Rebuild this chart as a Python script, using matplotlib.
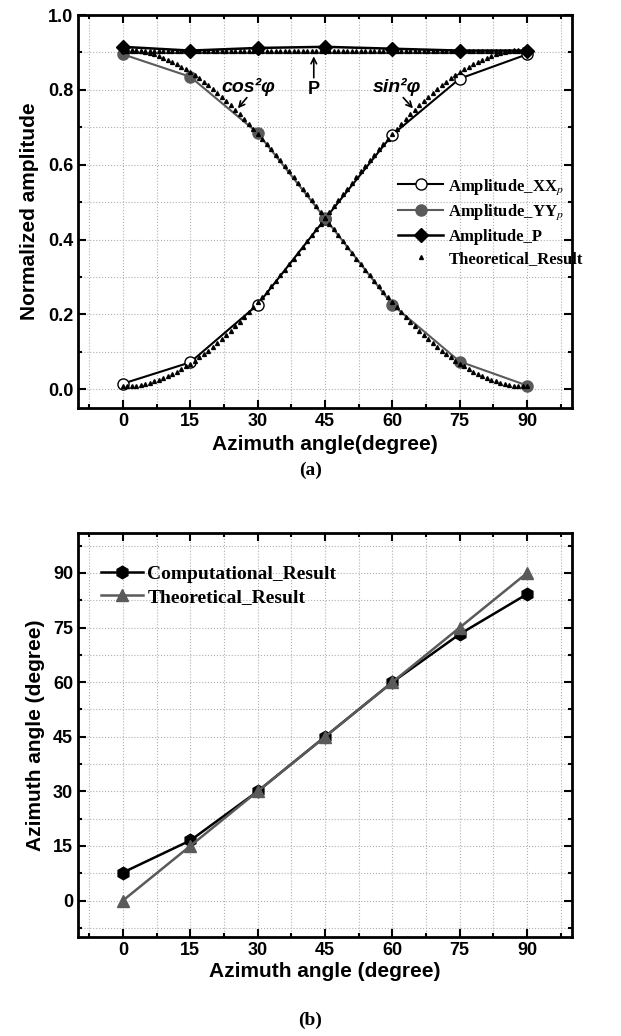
import matplotlib
matplotlib.use("Agg")
import matplotlib.pyplot as plt
from matplotlib.ticker import MultipleLocator

plt.rcParams['font.family'] = ['Liberation Sans', 'DejaVu Sans']
plt.rcParams['mathtext.fontset'] = 'stix'

# ---------- panel (a) data ----------
angle = [0, 15, 30, 45, 60, 75, 90]
amp_xx = [0.015, 0.072, 0.226, 0.455, 0.680, 0.830, 0.895]
amp_yy = [0.895, 0.835, 0.685, 0.457, 0.226, 0.074, 0.010]
amp_p = [0.915, 0.905, 0.912, 0.915, 0.910, 0.905, 0.905]

# theoretical curves, one point per degree (0..90)
theo_angle = list(range(0, 91))
theo_cos = [0.908, 0.908, 0.907, 0.906, 0.904, 0.901, 0.898, 0.895, 0.891, 0.886,
            0.881, 0.875, 0.869, 0.862, 0.855, 0.848, 0.840, 0.831, 0.822, 0.813,
            0.803, 0.792, 0.782, 0.771, 0.759, 0.747, 0.735, 0.723, 0.710, 0.696,
            0.683, 0.669, 0.655, 0.641, 0.627, 0.612, 0.597, 0.582, 0.567, 0.552,
            0.536, 0.521, 0.505, 0.489, 0.474, 0.458, 0.442, 0.427, 0.411, 0.395,
            0.380, 0.364, 0.349, 0.334, 0.319, 0.304, 0.289, 0.275, 0.261, 0.247,
            0.233, 0.220, 0.206, 0.193, 0.181, 0.169, 0.157, 0.145, 0.134, 0.124,
            0.113, 0.103, 0.094, 0.085, 0.076, 0.068, 0.061, 0.054, 0.047, 0.041,
            0.035, 0.030, 0.025, 0.021, 0.018, 0.015, 0.012, 0.010, 0.009, 0.008,
            0.008]
theo_sin = [0.008, 0.008, 0.009, 0.010, 0.012, 0.015, 0.018, 0.021, 0.025, 0.030,
            0.035, 0.041, 0.047, 0.054, 0.061, 0.068, 0.076, 0.085, 0.094, 0.103,
            0.113, 0.124, 0.134, 0.145, 0.157, 0.169, 0.181, 0.193, 0.206, 0.220,
            0.233, 0.247, 0.261, 0.275, 0.289, 0.304, 0.319, 0.334, 0.349, 0.364,
            0.380, 0.395, 0.411, 0.427, 0.442, 0.458, 0.474, 0.489, 0.505, 0.521,
            0.536, 0.552, 0.567, 0.582, 0.597, 0.612, 0.627, 0.641, 0.655, 0.669,
            0.683, 0.696, 0.710, 0.723, 0.735, 0.747, 0.759, 0.771, 0.782, 0.792,
            0.803, 0.813, 0.822, 0.831, 0.840, 0.848, 0.855, 0.862, 0.869, 0.875,
            0.881, 0.886, 0.891, 0.895, 0.898, 0.901, 0.904, 0.906, 0.907, 0.908,
            0.908]
theo_p = [0.905, 0.905, 0.905, 0.905, 0.905, 0.905, 0.905, 0.905, 0.905, 0.905,
          0.905, 0.905, 0.905, 0.905, 0.905, 0.905, 0.905, 0.905, 0.905, 0.905,
          0.905, 0.905, 0.905, 0.905, 0.905, 0.905, 0.905, 0.905, 0.905, 0.905,
          0.905, 0.905, 0.905, 0.905, 0.905, 0.905, 0.905, 0.905, 0.905, 0.905,
          0.905, 0.905, 0.905, 0.905, 0.905, 0.905, 0.905, 0.905, 0.905, 0.905,
          0.905, 0.905, 0.905, 0.905, 0.905, 0.905, 0.905, 0.905, 0.905, 0.905,
          0.905, 0.905, 0.905, 0.905, 0.905, 0.905, 0.905, 0.905, 0.905, 0.905,
          0.905, 0.905, 0.905, 0.905, 0.905, 0.905, 0.905, 0.905, 0.905, 0.905,
          0.905, 0.905, 0.905, 0.905, 0.905, 0.905, 0.905, 0.905, 0.905, 0.905,
          0.905]

# ---------- panel (b) data ----------
comp_result = [7.7, 16.5, 30.0, 45.0, 60.0, 73.2, 84.2]
theo_result = [0, 15, 30, 45, 60, 75, 90]

fig = plt.figure(figsize=(6.21, 10.36), dpi=100)
ax1 = fig.add_axes([0.1256, 0.6062, 0.7955, 0.3793])
ax2 = fig.add_axes([0.1256, 0.0956, 0.7955, 0.3900])

gray = "#5a5a5a"


def style_axes(ax):
    ax.tick_params(which="both", direction="in", top=True, right=True,
                   width=1.5, labelsize=13)
    ax.tick_params(which="major", length=6)
    ax.tick_params(which="minor", length=3)
    for lbl in ax.get_xticklabels() + ax.get_yticklabels():
        lbl.set_fontweight("bold")
    for sp in ax.spines.values():
        sp.set_linewidth(2)
    ax.grid(which="both", linestyle=":", color="#b0b0b0", linewidth=0.8)
    ax.set_axisbelow(True)


# panel (a)
ax1.plot(angle, amp_xx, "-o", color="black", lw=1.5, ms=8,
         mfc="white", mec="black", mew=1.0, label=r"Amplitude_XX$_{\mathit{p}}$", zorder=3)
ax1.plot(angle, amp_yy, "-o", color=gray, lw=1.5, ms=8,
         mfc=gray, mec=gray, label=r"Amplitude_YY$_{\mathit{p}}$", zorder=3)
ax1.plot(angle, amp_p, "-D", color="black", lw=1.8, ms=7.5,
         label="Amplitude_P", zorder=4)
ax1.plot(theo_angle, theo_cos, "^", color="black", ms=2.8, ls="none",
         label="Theoretical_Result", zorder=5)
ax1.plot(theo_angle, theo_sin, "^", color="black", ms=2.8, ls="none", zorder=5)
ax1.plot(theo_angle, theo_p, "^", color="black", ms=2.8, ls="none", zorder=5)

ax1.set_xlim(-10, 100)
ax1.set_ylim(-0.05, 1.0)
ax1.xaxis.set_major_locator(MultipleLocator(15))
ax1.xaxis.set_minor_locator(MultipleLocator(7.5))
ax1.yaxis.set_major_locator(MultipleLocator(0.2))
ax1.yaxis.set_minor_locator(MultipleLocator(0.1))
ax1.set_xlabel("Azimuth angle(degree)", fontsize=15, fontweight="bold", labelpad=4)
ax1.set_ylabel("Normalized amplitude", fontsize=15, fontweight="bold", labelpad=6)
style_axes(ax1)

ax1.legend(loc="upper left", bbox_to_anchor=(0.635, 0.605), frameon=False,
           prop={"family": "Liberation Serif", "weight": "bold", "size": 12},
           handlelength=2.7, handletextpad=0.3, labelspacing=0.38,
           borderaxespad=0)

ann_font = dict(fontsize=14, fontweight="bold", style="italic")
ax1.annotate("", xy=(25.2, 0.745), xytext=(28.0, 0.785),
             arrowprops=dict(arrowstyle="->", color="black", lw=1.2))
ax1.text(28.0, 0.807, "cos²φ", ha="center", va="center", **ann_font)
ax1.annotate("", xy=(42.5, 0.897), xytext=(42.5, 0.825),
             arrowprops=dict(arrowstyle="->", color="black", lw=1.2))
ax1.text(42.5, 0.80, "P", ha="center", va="center", fontsize=13, fontweight="bold")
ax1.annotate("", xy=(65.0, 0.745), xytext=(62.0, 0.785),
             arrowprops=dict(arrowstyle="->", color="black", lw=1.2))
ax1.text(61.0, 0.807, "sin²φ", ha="center", va="center", **ann_font)

# panel (b)
ax2.plot(angle, comp_result, "-h", color="black", lw=1.8, ms=9,
         label="Computational_Result", zorder=3)
ax2.plot(angle, theo_result, "-^", color=gray, lw=1.8, ms=8,
         label="Theoretical_Result", zorder=4)
ax2.set_xlim(-10, 100)
ax2.set_ylim(-10, 101)
ax2.xaxis.set_major_locator(MultipleLocator(15))
ax2.xaxis.set_minor_locator(MultipleLocator(7.5))
ax2.yaxis.set_major_locator(MultipleLocator(15))
ax2.yaxis.set_minor_locator(MultipleLocator(7.5))
ax2.set_xlabel("Azimuth angle (degree)", fontsize=15, fontweight="bold", labelpad=2)
ax2.set_ylabel("Azimuth angle (degree)", fontsize=15, fontweight="bold", labelpad=6)
style_axes(ax2)

ax2.legend(loc="upper left", bbox_to_anchor=(0.03, 0.94), frameon=False,
           prop={"family": "Liberation Serif", "weight": "bold", "size": 14},
           handlelength=2.2, handletextpad=0.2, labelspacing=0.3,
           borderaxespad=0)

fig.text(0.5, 0.546, "(a)", ha="center", va="center",
         family="Liberation Serif", fontweight="bold", fontsize=14)
fig.text(0.5, 0.015, "(b)", ha="center", va="center",
         family="Liberation Serif", fontweight="bold", fontsize=14)

fig.savefig("out.png", dpi=100)
